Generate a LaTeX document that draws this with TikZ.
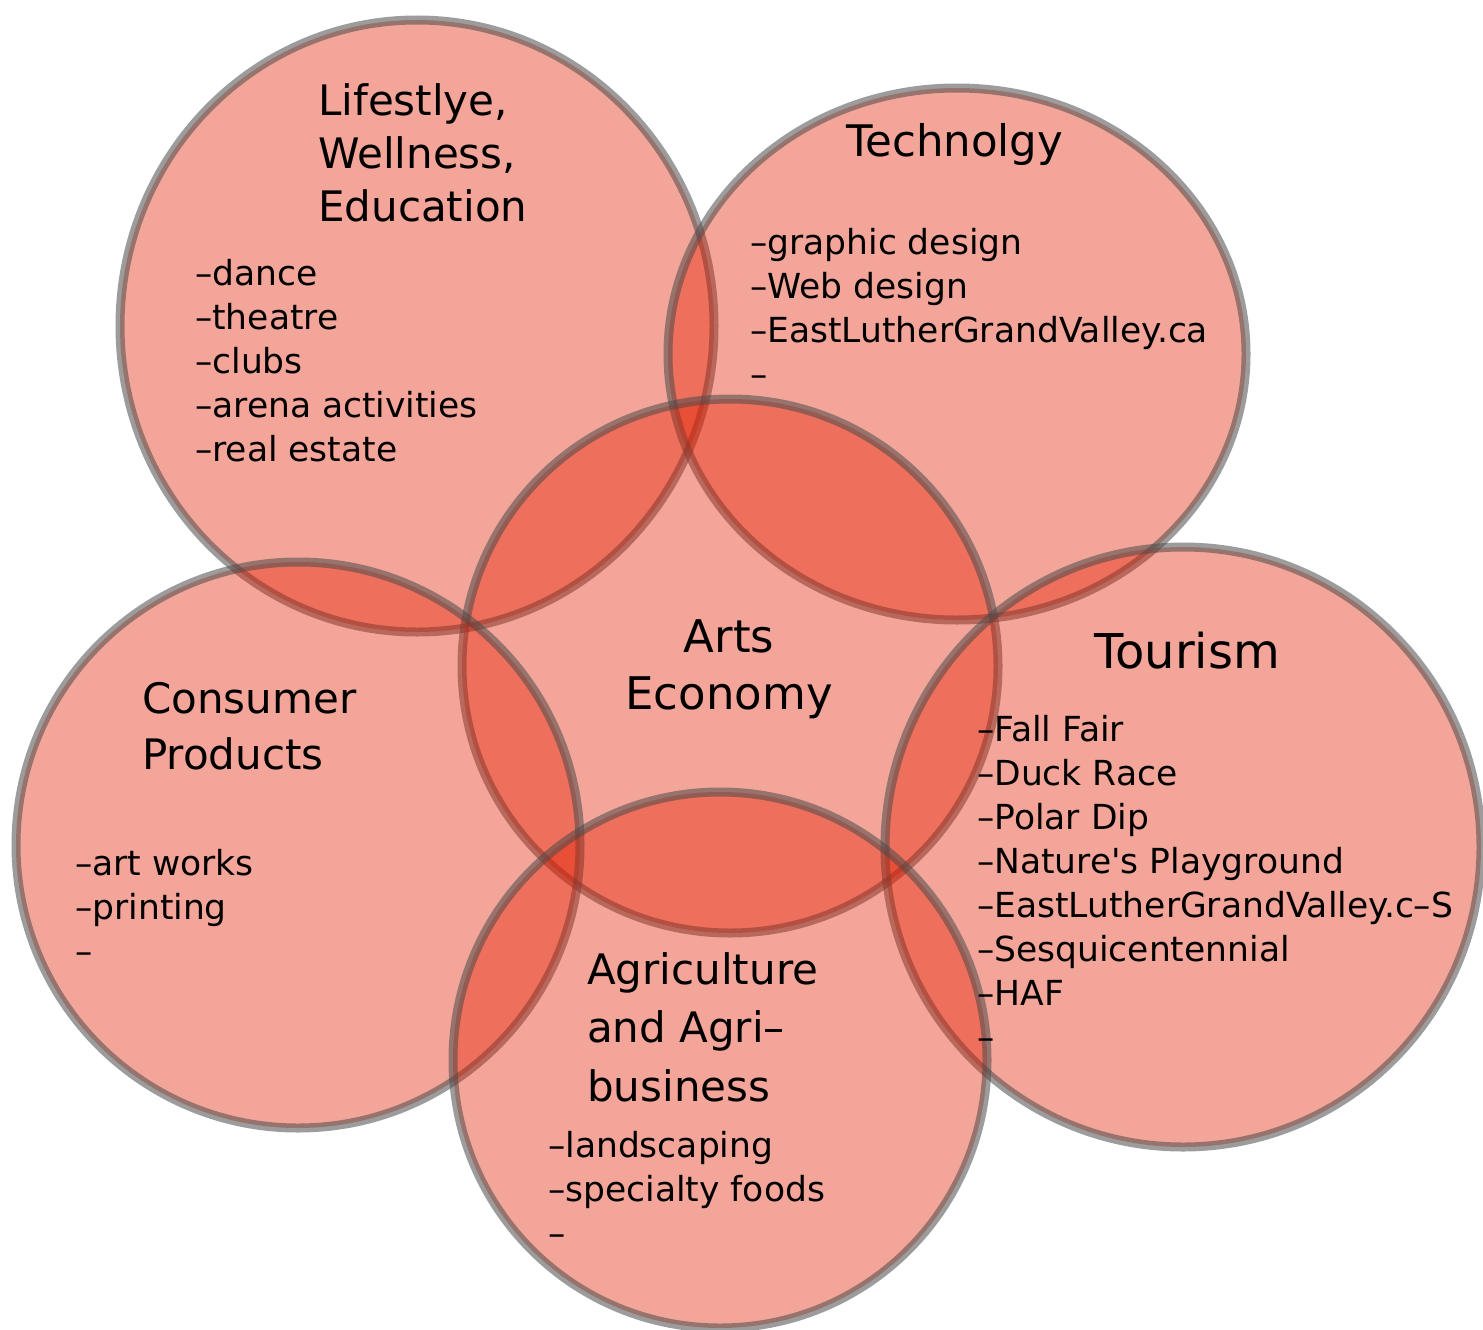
\documentclass[tikz,border=0pt]{standalone}
\usepackage{fontspec}
\setmainfont{DejaVu Sans}
\definecolor{vennred}{RGB}{227,29,0}
\definecolor{venngray}{RGB}{75,75,75}
\tikzset{
  venn/.style={fill=vennred, fill opacity=0.4, draw=venngray, draw opacity=0.55, line width=9pt},
  head/.style={inner sep=0pt, anchor=base west, font=\fontsize{42}{50}\selectfont},
  item/.style={inner sep=0pt, anchor=base west, font=\fontsize{34.5}{40}\selectfont}
}
\begin{document}
\begin{tikzpicture}[x=1pt, y=-1pt]
	\useasboundingbox (0,0) rectangle (1483,1330);
	\coordinate (life)    at (417, 326);
	\coordinate (tech)    at (957, 354);
	\coordinate (arts)    at (730, 666);
	\coordinate (consum)  at (298, 845);
	\coordinate (tour)    at (1183, 847);
	\coordinate (agri)    at (720, 1060);

	% circles
	\draw[venn] (life)   ellipse [x radius=297, y radius=306];
	\draw[venn] (tech)   ellipse [x radius=289, y radius=266];
	\draw[venn] (arts)   ellipse [x radius=268, y radius=267];
	\draw[venn] (consum) ellipse [x radius=282, y radius=283];
	\draw[venn] (tour)   ellipse [x radius=298, y radius=300];
	\draw[venn] (agri)   ellipse [x radius=267, y radius=268];

	% titles
	\node[head] (life-t1) at (318, 115) {Lifestlye,};
	\node[head] (life-t2) at (318, 168) {Wellness,};
	\node[head] (life-t3) at (318, 221) {Education};
	\node[head, font=\fontsize{43.5}{50}\selectfont] (tech-t)  at (846, 156) {Technolgy};
	\node[head, anchor=base, font=\fontsize{45}{50}\selectfont] (arts-t1) at (729, 652) {Arts};
	\node[head, anchor=base, font=\fontsize{45}{50}\selectfont] (arts-t2) at (729, 709) {Economy};
	\node[head] (consum-t1) at (142, 713) {Consumer};
	\node[head] (consum-t2) at (142, 769) {Products};
	\node[head, anchor=base, font=\fontsize{48}{50}\selectfont] (tour-t) at (1187, 668) {Tourism};
	\node[head] (agri-t1) at (587, 984) {Agriculture};
	\node[head] (agri-t2) at (587, 1042) {and Agri–};
	\node[head] (agri-t3) at (587, 1101) {business};

	% lists
	\foreach \txt [count=\i] in {dance, theatre, clubs, arena activities, real estate}
		\node[item] (life-\i) at (195, 241+44*\i) {–\txt};
	\foreach \txt [count=\i] in {graphic design, Web design, EastLutherGrandValley.ca, {}}
		\node[item] (tech-\i) at (750, 210+44*\i) {–\txt};
	\foreach \txt [count=\i] in {art works, printing, {}}
		\node[item] (consum-\i) at (75, 831+44*\i) {–\txt};
	\foreach \txt [count=\i] in {Fall Fair, Duck Race, Polar Dip, Nature\textquotesingle s Playground, EastLutherGrandValley.c–S, Sesquicentennial, HAF, {}}
		\node[item] (tour-\i) at (977, 697+44*\i) {–\txt};
	\foreach \txt [count=\i] in {landscaping, specialty foods, {}}
		\node[item] (agri-\i) at (548, 1113+44*\i) {–\txt};
\end{tikzpicture}
\end{document}
